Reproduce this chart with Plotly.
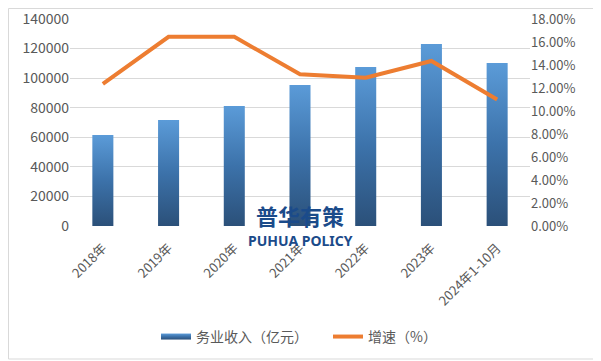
import plotly.graph_objects as go

categories = ["2018年", "2019年", "2020年", "2021年", "2022年", "2023年", "2024年1-10月"]
revenue = [61500, 71700, 81100, 95400, 107500, 123100, 110200]
growth = [12.35, 16.45, 16.45, 13.2, 12.9, 14.35, 11.0]
left_ticks = [0, 20000, 40000, 60000, 80000, 100000, 120000, 140000]
right_ticks = [0, 2, 4, 6, 8, 10, 12, 14, 16, 18]
right_labels = ["%.2f%%" % t for t in right_ticks]

BAR_HALF = 0.16
GRAD = [[0, "#2b5079"], [0.5, "#3c72aa"], [1, "#5b9bd8"]]
FONT = "Noto Sans CJK SC, Microsoft YaHei, sans-serif"
GRAY = "#595959"

# page body has an 8px margin, so offsets compensate
L, T, PW, PH = 62, 11, 460, 207

fig = go.Figure()
xs = list(range(len(categories)))
for i, v in enumerate(revenue):
    fig.add_trace(go.Scatter(
        x=[i - BAR_HALF, i + BAR_HALF, i + BAR_HALF, i - BAR_HALF, i - BAR_HALF],
        y=[0, 0, v, v, 0],
        mode="none", fill="toself",
        fillgradient=dict(type="vertical", colorscale=GRAD),
        name="务业收入（亿元）", legendgroup="rev",
        showlegend=(i == 0), hoverinfo="skip",
    ))

fig.add_trace(go.Scatter(
    x=xs, y=growth, mode="lines", name="增速（%）",
    line=dict(color="#ed7d31", width=4), yaxis="y2",
))

fig.update_layout(
    width=601, height=361,
    margin=dict(l=L, r=601 - L - PW, t=T, b=361 - T - PH, autoexpand=False),
    paper_bgcolor="white", plot_bgcolor="white",
    font=dict(family=FONT, color=GRAY, size=13),
    showlegend=True,
    legend=dict(orientation="h", x=0.187, xanchor="left", y=-0.536, yanchor="middle",
                font=dict(size=14, color=GRAY), itemwidth=30, tracegroupgap=0,
                entrywidth=127),
    xaxis=dict(range=[-0.5, len(categories) - 0.5], tickvals=xs, ticktext=categories,
               tickangle=-45, showgrid=False, zeroline=False, showline=False, ticks="",
               automargin=False, ticklabelstandoff=11,
               tickfont=dict(size=13, color=GRAY)),
    yaxis=dict(range=[0, 140000], tickvals=left_ticks, tickformat="d",
               showgrid=True, gridcolor="#d9d9d9", gridwidth=1, zeroline=False,
               automargin=False, ticklabeloverflow="allow", ticks="",
               tickfont=dict(size=14, color=GRAY)),
    yaxis2=dict(range=[0, 18], tickvals=right_ticks, ticktext=right_labels,
                overlaying="y", side="right", showgrid=False, zeroline=False,
                automargin=False, ticklabeloverflow="allow", ticks="",
                tickfont=dict(size=13, color=GRAY)),
    shapes=[dict(type="rect", xref="paper", yref="paper",
                 x0=(0.5 - L) / PW, x1=(591 - L) / PW,
                 y0=(T + PH - 351) / PH, y1=(T + PH - 0.5) / PH,
                 line=dict(color="#d9d9d9", width=1), layer="below")],
    annotations=[
        dict(text="<b>普华有策</b>", x=3, y=0.053, xref="x", yref="paper", yanchor="middle",
             showarrow=False, font=dict(size=22, color="#1b4b8a", family=FONT)),
        dict(text="<b>PUHUA POLICY</b>", x=3, y=-0.072, xref="x", yref="paper", yanchor="middle",
             showarrow=False, font=dict(size=14, color="#1b4b8a", family="Noto Sans, sans-serif")),
    ],
)

fig.write_html("out.html")
